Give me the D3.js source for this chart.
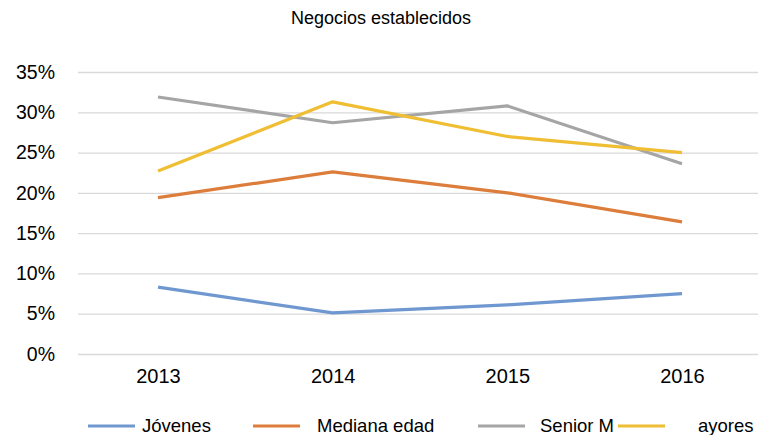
<!DOCTYPE html>
<html><head><meta charset="utf-8">
<script src="https://cdn.jsdelivr.net/npm/d3@7"></script>
<style>body{margin:0;background:#fff}svg{display:block;font-family:"Liberation Sans",Arial,Helvetica,sans-serif}</style>
</head><body><svg id="c" width="758" height="435"></svg>
<script>
const years = ["2013","2014","2015","2016"];
const jovenes = [8.3, 5.1, 6.1, 7.5];
const medianaEdad = [19.4, 22.6, 20.0, 16.4];
const seniorMayores = [31.9, 28.7, 30.8, 23.6];
const mayores = [22.7, 31.3, 27.0, 25.0];
const yTicks = [0,5,10,15,20,25,30,35];
const seriesNames = ["Jóvenes","Mediana edad","Senior M","ayores"];
const colors = ["#7098d0","#dc7d3b","#a5a5a5","#efbe33"];
const title = "Negocios establecidos";

const series = [jovenes, medianaEdad, seniorMayores, mayores];
const svg = d3.select("#c");
const x = d3.scalePoint().domain(years).range([158, 682]);
const y = d3.scaleLinear().domain([0,35]).range([354, 72]);

svg.append("text").attr("x",381).attr("y",24).attr("text-anchor","middle")
  .attr("font-size",18).attr("fill","#000").text(title);

const yAxis = svg.append("g").attr("transform","translate(78,0)")
  .call(d3.axisLeft(y).tickValues(yTicks).tickFormat(d=>d+"%").tickSize(-680).tickPadding(23));
yAxis.select(".domain").remove();
yAxis.selectAll(".tick line").attr("stroke","#d9d9d9").attr("stroke-width",1.3);
yAxis.selectAll(".tick text").attr("font-size",19.5).attr("fill","#000").attr("font-family","Liberation Sans, Arial, sans-serif");

const xAxis = svg.append("g").attr("transform","translate(0,354)")
  .call(d3.axisBottom(x).tickSize(0).tickPadding(15));
xAxis.select(".domain").remove();
xAxis.selectAll(".tick text").attr("font-size",20).attr("fill","#000").attr("font-family","Liberation Sans, Arial, sans-serif");

const line = d3.line().x((d,i)=>x(years[i])).y(d=>y(d));
series.forEach((s,i)=>{
  svg.append("path").datum(s).attr("d",line).attr("fill","none")
    .attr("stroke",colors[i]).attr("stroke-width",3.2).attr("stroke-linejoin","round");
});

const legendLineX = [88, 253, 478, 618];
const legendTextX = [142, 317, 540, 698];
const lg = svg.append("g");
seriesNames.forEach((n,i)=>{
  lg.append("line").attr("x1",legendLineX[i]).attr("x2",legendLineX[i]+47)
    .attr("y1",426).attr("y2",426).attr("stroke",colors[i]).attr("stroke-width",3.2);
  lg.append("text").attr("x",legendTextX[i]).attr("y",432).attr("font-size",18.5)
    .attr("fill","#000").text(n);
});
</script></body></html>
